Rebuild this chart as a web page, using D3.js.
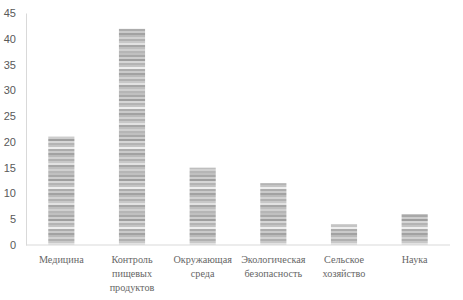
<!DOCTYPE html>
<html>
<head>
<meta charset="utf-8">
<script src="https://cdn.jsdelivr.net/npm/d3@7"></script>
<style>
  body { margin: 0; background: #fff; }
</style>
</head>
<body>
<script>
// categories and values
const categories = [
    ["Медицина"],
    ["Контроль", "пищевых", "продуктов"],
    ["Окружающая", "среда"],
    ["Экологическая", "безопасность"],
    ["Сельское", "хозяйство"],
    ["Наука"]
];
const values = [21, 42, 15, 12, 4, 6];
const yTicks = [0, 5, 10, 15, 20, 25, 30, 35, 40, 45];

const margin = {top: 13, right: 13, bottom: 55, left: 26},
    width = 463 - margin.left - margin.right,
    height = 300 - margin.top - margin.bottom;

const svg = d3.select("body")
    .append("svg")
    .attr("width", 463)
    .attr("height", 300);

// striped gray fill for the bars
const defs = svg.append("defs");
const pat = defs.append("pattern")
    .attr("id", "stripes")
    .attr("patternUnits", "userSpaceOnUse")
    .attr("width", 30)
    .attr("height", 40);
const stripeCols = ["#c0c0c0", "#a8a8a8", "#cdcdcd", "#9e9e9e", "#d6d6d6", "#b4b4b4",
    "#c4c4c4", "#eeeeee", "#acacac", "#cacaca", "#a2a2a2", "#bababa",
    "#d2d2d2", "#b0b0b0", "#c8c8c8", "#e2e2e2", "#a6a6a6", "#bebebe", "#d0d0d0", "#b6b6b6"];
stripeCols.forEach(function(c, i) {
    pat.append("rect")
        .attr("x", 0).attr("y", i * 2)
        .attr("width", 30).attr("height", 2)
        .attr("fill", c);
});

const g = svg.append("g")
    .attr("transform", `translate(${margin.left},${margin.top})`);

const x = d3.scaleBand()
    .domain(d3.range(categories.length))
    .range([0, width])
    .paddingInner(0.63)
    .paddingOuter(0.315);

const y = d3.scaleLinear()
    .domain([0, 45])
    .range([height, 0]);

// Y axis
const yAxis = g.append("g")
    .call(d3.axisLeft(y).tickValues(yTicks).tickSize(0).tickPadding(10));
yAxis.select(".domain").attr("stroke", "#d9d9d9");
yAxis.selectAll("text")
    .attr("fill", "#595959")
    .style("font-family", "'Liberation Sans', Arial, sans-serif")
    .style("font-size", "11px");

// bars
g.append("g")
    .selectAll("rect")
    .data(values)
    .enter()
    .append("rect")
    .attr("x", function(d, i) { return x(i); })
    .attr("y", function(d) { return y(d); })
    .attr("width", x.bandwidth())
    .attr("height", function(d) { return height - y(d); })
    .attr("fill", "url(#stripes)");

// baseline
g.append("line")
    .attr("x1", 0).attr("x2", width)
    .attr("y1", height).attr("y2", height)
    .attr("stroke", "#d9d9d9");

// category labels
const labels = g.append("g")
    .selectAll("text")
    .data(categories)
    .enter()
    .append("text")
    .attr("x", function(d, i) { return x(i) + x.bandwidth() / 2; })
    .attr("y", height + 18)
    .attr("text-anchor", "middle")
    .attr("fill", "#666666")
    .style("font-family", "'Liberation Serif', 'Times New Roman', serif")
    .style("font-size", "10.2px");
labels.each(function(d) {
    const t = d3.select(this);
    d.forEach(function(line, j) {
        t.append("tspan")
            .attr("x", t.attr("x"))
            .attr("dy", j === 0 ? 0 : 14)
            .text(line);
    });
});
</script>
</body>
</html>
